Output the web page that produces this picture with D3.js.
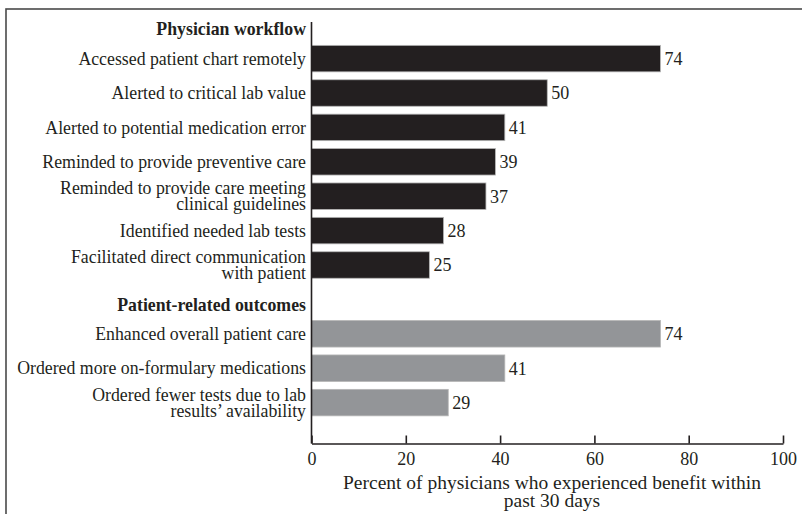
<!DOCTYPE html>
<html>
<head>
<meta charset="utf-8">
<script src="https://cdn.jsdelivr.net/npm/d3@7/dist/d3.min.js"></script>
<style>
  html, body { margin: 0; padding: 0; background: #fff; }
  svg text { font-family: "Liberation Serif", "DejaVu Serif", serif; fill: #231f20; }
</style>
</head>
<body>
<svg id="chart" width="802" height="514"></svg>
<script>
// Rows from top to bottom; section headings carry no value
const rowLabels = [
  "Physician workflow",
  "Accessed patient chart remotely",
  "Alerted to critical lab value",
  "Alerted to potential medication error",
  "Reminded to provide preventive care",
  "Reminded to provide care meeting\nclinical guidelines",
  "Identified needed lab tests",
  "Facilitated direct communication\nwith patient",
  "Patient-related outcomes",
  "Enhanced overall patient care",
  "Ordered more on-formulary medications",
  "Ordered fewer tests due to lab\nresults’ availability"
];
const headingRows = ["Physician workflow", "Patient-related outcomes"];

const workflowLabels = rowLabels.slice(1, 8);
const workflowValues = [74, 50, 41, 39, 37, 28, 25];
const outcomeLabels = rowLabels.slice(9);
const outcomeValues = [74, 41, 29];

const xTicks = [0, 20, 40, 60, 80, 100];
const xTitle = ["Percent of physicians who experienced benefit within", "past 30 days"];

const bars = [
  ...workflowLabels.map((l, i) => ({ label: l, value: workflowValues[i], group: "workflow" })),
  ...outcomeLabels.map((l, i) => ({ label: l, value: outcomeValues[i], group: "outcome" }))
];
const fills = { workflow: "#231f20", outcome: "#939598" };

const svg = d3.select("#chart");
const labelSize = 17.8;

// Frame line (top and left edges)
svg.append("rect")
  .attr("x", 6).attr("y", 9).attr("width", 830).attr("height", 540)
  .attr("fill", "none").attr("stroke", "#4a4a4a").attr("stroke-width", 1.6);

const x = d3.scaleLinear().domain([0, 100]).range([311.5, 783]);
const y = d3.scaleBand().domain(rowLabels).range([7, 419.8])
  .paddingInner(0.23).paddingOuter(0.115);

const axisY = 443.5;

// Bars
svg.append("g").selectAll("rect").data(bars).join("rect")
  .attr("x", x(0))
  .attr("y", d => y(d.label))
  .attr("width", d => x(d.value) - x(0))
  .attr("height", y.bandwidth())
  .attr("fill", d => fills[d.group])
  .attr("stroke", "#b5b5b5").attr("stroke-width", 0.8);

// Value labels
svg.append("g").selectAll("text").data(bars).join("text")
  .attr("x", d => x(d.value) + 4)
  .attr("y", d => y(d.label) + y.bandwidth() / 2)
  .attr("dy", "0.35em")
  .attr("font-size", 18)
  .text(d => d.value);

// Category labels (right-aligned, multi-line where needed)
const lineH = 16;
svg.append("g").selectAll("text").data(rowLabels).join("text")
  .attr("text-anchor", "end")
  .attr("font-size", labelSize)
  .attr("font-weight", d => headingRows.includes(d) ? "bold" : null)
  .each(function (d) {
    const lines = d.split("\n");
    const cy = y(d) + y.bandwidth() / 2 + (headingRows.includes(d) ? 5 : 0);
    const t = d3.select(this);
    lines.forEach((ln, i) => {
      t.append("tspan")
        .attr("x", 306)
        .attr("y", cy + (i - (lines.length - 1) / 2) * lineH)
        .attr("dy", "0.35em")
        .text(ln);
    });
  });

// Left axis line
svg.append("line")
  .attr("x1", x(0)).attr("x2", x(0))
  .attr("y1", 22).attr("y2", axisY)
  .attr("stroke", "#231f20").attr("stroke-width", 1.6);

// Bottom axis with inward ticks
const xAxis = d3.axisBottom(x).tickValues(xTicks).tickSize(-8).tickSizeOuter(0).tickPadding(6);
const gx = svg.append("g").attr("transform", `translate(0,${axisY})`).call(xAxis);
gx.select(".domain").attr("stroke", "#231f20").attr("stroke-width", 1.6);
gx.selectAll(".tick line").attr("stroke", "#231f20").attr("stroke-width", 1.6);
gx.selectAll(".tick text")
  .attr("font-family", "Liberation Serif, DejaVu Serif, serif")
  .attr("font-size", 18).attr("fill", "#231f20")
  .attr("y", 15.5).attr("dy", "0.35em");

// Axis title
svg.append("text")
  .attr("text-anchor", "middle")
  .attr("font-size", 19.5)
  .selectAll("tspan").data(xTitle).join("tspan")
  .attr("x", 552)
  .attr("y", (d, i) => 482 + i * 18.5)
  .attr("dy", "0.35em")
  .text(d => d);
</script>
</body>
</html>
